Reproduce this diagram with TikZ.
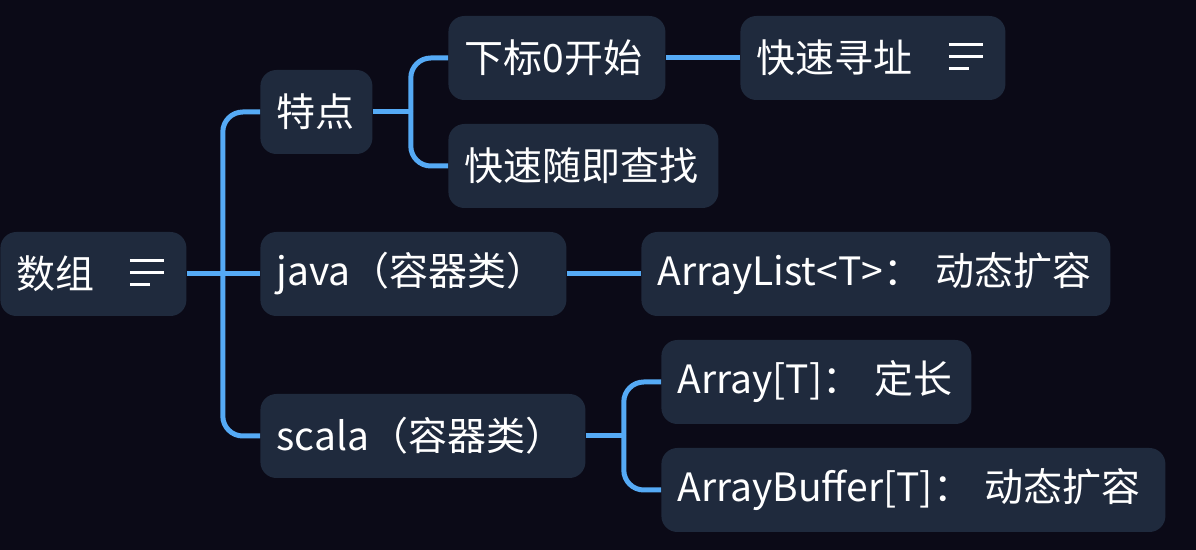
\documentclass[tikz,border=0pt]{standalone}
\usepackage{fontspec}
\newfontfamily\cjk{Noto Sans CJK SC}
\usepackage{tikz}
\definecolor{bgcol}{HTML}{0B0A17}
\definecolor{boxcol}{HTML}{1F2A3D}
\definecolor{linkcol}{HTML}{55AAF5}
\tikzset{
  topic/.style = {anchor=west, rectangle, rounded corners=8pt, fill=boxcol,
    text=white, font=\cjk\fontsize{19.5}{24}\selectfont, align=left,
    inner xsep=8pt, inner ysep=0pt, minimum height=42pt},% dark box, white text
  link/.style = {draw=linkcol, line width=2.5pt, rounded corners=10pt},% blue branch
  noteline/.style = {draw=white, line width=1.5pt}% note icon strokes
}
\newcommand{\noteicon}[1]{%
  \draw[noteline, shift={(#1.east)}] (-57,-13) -- (-23,-13)
    (-57,-1) -- (-23,-1) (-57,11) -- (-37,11);}

\begin{document}
\begin{tikzpicture}[x=0.5pt,y=-0.5pt]
\fill[bgcol] (0,0) rectangle (1196,550);
\useasboundingbox (0,0) rectangle (1196,550);

\node[topic, text width=77pt] (root) at (0,274) {数组};
\node[topic, text width=40pt] (tedian) at (260,112) {特点};
\node[topic, text width=92.5pt] (xiabiao) at (448,58) {下标0开始};
\node[topic, text width=116.5pt] (xunzhi) at (740,58) {快速寻址};
\node[topic, text width=119pt] (suiji) at (448,166) {快速随即查找};
\node[topic, text width=137pt] (java) at (260,274) {java（容器类）};
\node[topic, text width=218.5pt] (alist) at (641,274) {ArrayList<T>：~动态扩容};
\node[topic, text width=146.5pt] (scala) at (260,436) {scala（容器类）};
\node[topic, text width=139pt] (arr) at (661,382) {Array[T]：~定长};
\node[topic, text width=236pt] (abuf) at (661,490) {ArrayBuffer[T]：~动态扩容};

\noteicon{root}
\noteicon{xunzhi}

% branches
\path (root.east) ++(36,0) coordinate (j1);
\path (tedian.east) ++(38,0) coordinate (j2);
\path (scala.east) ++(38,0) coordinate (j3);
\draw[link] (root.east) -- (java.west);
\draw[link] (j1) |- (tedian.west);
\draw[link] (j1) |- (scala.west);
\draw[link] (tedian.east) -- (j2);
\draw[link] (j2) |- (xiabiao.west);
\draw[link] (j2) |- (suiji.west);
\draw[link] (xiabiao.east) -- (xunzhi.west);
\draw[link] (java.east) -- (alist.west);
\draw[link] (scala.east) -- (j3);
\draw[link] (j3) |- (arr.west);
\draw[link] (j3) |- (abuf.west);
\end{tikzpicture}
\end{document}
